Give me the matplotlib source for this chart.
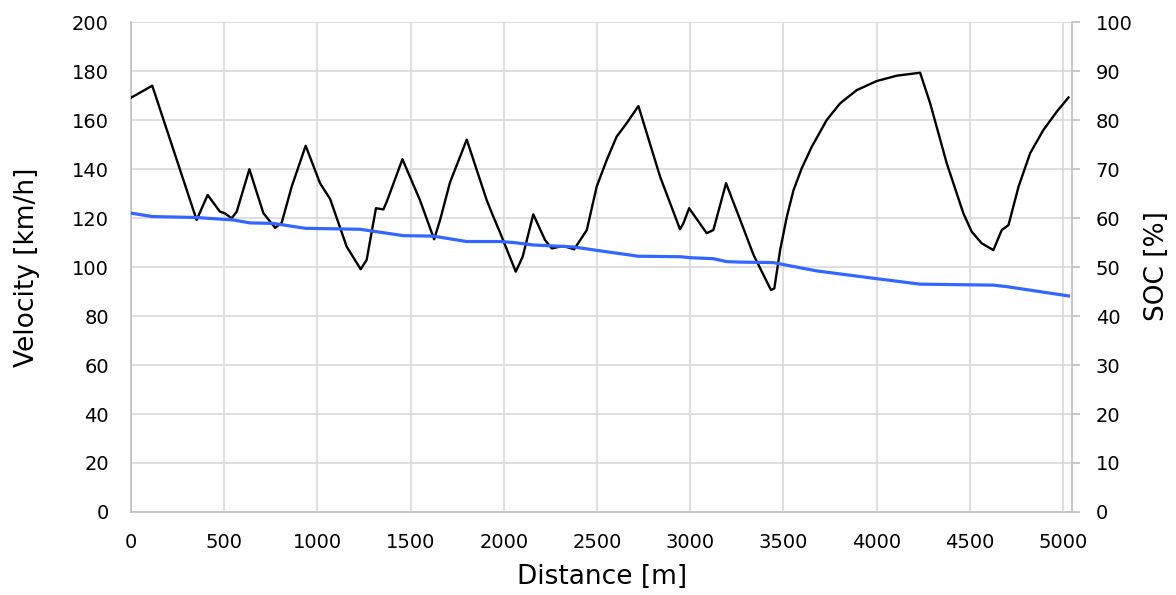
import matplotlib
matplotlib.use("Agg")
import matplotlib.pyplot as plt

# Velocity profile (distance [m], velocity [km/h])
dist_v = [0, 114, 352, 411, 477, 501, 540, 567, 635, 710, 773, 808, 862, 937, 1014, 1068,
          1157, 1232, 1264, 1314, 1354, 1372, 1456, 1550, 1626, 1658, 1711, 1801, 1908,
          1944, 1980, 2064, 2101, 2158, 2221, 2257, 2320, 2377, 2445, 2498, 2552, 2605, 2659,
          2722, 2838, 2945, 2963, 2994, 3088, 3124, 3192, 3267, 3339, 3433, 3451, 3482, 3518,
          3554, 3598, 3652, 3732, 3804, 3893, 4000, 4108, 4233, 4287, 4376, 4465, 4510, 4563,
          4626, 4671, 4707, 4761, 4823, 4894, 4966, 5029]
velocity = [169.1, 174.0, 119.2, 129.4, 122.6, 122.0, 119.9, 122.6, 139.9, 122.0, 116.0, 118.0,
            132.8, 149.5, 134.2, 127.8, 108.3, 99.1, 102.9, 124.0, 123.5, 126.7, 144.0, 127.3,
            111.3, 119.2, 134.5, 152.0, 127.3, 120.5, 114.0, 98.1, 104.2, 121.5, 111.0, 107.6,
            108.6, 107.2, 115.1, 132.8, 143.7, 153.2, 158.7, 165.7, 136.9, 115.4, 117.8, 124.0,
            113.8, 115.1, 134.2, 119.4, 105.0, 90.6, 91.3, 106.9, 120.5, 131.4, 140.3, 149.1,
            160.0, 166.8, 172.2, 175.9, 178.1, 179.3, 166.8, 142.3, 121.9, 114.4, 109.7, 106.9,
            115.1, 117.1, 132.8, 146.4, 155.9, 163.4, 169.2]

# State of charge (distance [m], SOC [%])
dist_soc = [0, 113, 352, 549, 638, 764, 934, 1229, 1461, 1622, 1801, 1980, 2051, 2158, 2373,
            2516, 2722, 2945, 2999, 3124, 3195, 3267, 3446, 3500, 3679, 3983, 4233, 4626,
            4697, 5029]
soc = [61.0, 60.3, 60.1, 59.6, 59.0, 58.9, 57.9, 57.7, 56.4, 56.3, 55.2, 55.2, 55.0, 54.5,
       54.1, 53.3, 52.2, 52.1, 51.9, 51.7, 51.1, 51.0, 50.9, 50.5, 49.2, 47.7, 46.5, 46.3,
       46.0, 44.1]

x_ticks = list(range(0, 5001, 500))
v_ticks = list(range(0, 201, 20))
soc_ticks = list(range(0, 101, 10))

grid_col = "#d9d9d9"
fs_tick = 14
fs_label = 19

fig = plt.figure(figsize=(11.76, 5.95), dpi=100)
ax = fig.add_axes([0.1114, 0.1395, 0.8002, 0.8235])
ax2 = ax.twinx()

ax.plot(dist_v, velocity, color="black", lw=1.7, zorder=3, solid_joinstyle="round")
ax2.plot(dist_soc, soc, color="#3366ff", lw=2.3, zorder=3, solid_joinstyle="round")

ax.set_xlim(0, 5048)
ax.set_ylim(0, 200)
ax2.set_ylim(0, 100)
ax.set_xticks(x_ticks)
ax.set_yticks(v_ticks)
ax2.set_yticks(soc_ticks)

ax.grid(True, color=grid_col, lw=1.2)
ax.set_axisbelow(True)

for a in (ax, ax2):
    for s in a.spines.values():
        s.set_color("#bfbfbf")
        s.set_linewidth(1.2)
    a.spines["top"].set_visible(False)
ax.spines["right"].set_visible(False)
ax2.spines["left"].set_visible(False)
ax2.spines["bottom"].set_visible(False)

ax.tick_params(axis="y", length=0, labelsize=fs_tick, pad=16)
ax.tick_params(axis="x", length=0, labelsize=fs_tick, pad=15)
ax2.tick_params(axis="y", length=6, color="#bfbfbf", width=1.2, labelsize=fs_tick, pad=11)

ax.set_xlabel("Distance [m]", fontsize=fs_label)
ax.set_ylabel("Velocity [km/h]", fontsize=fs_label)
ax2.set_ylabel("SOC [%]", fontsize=fs_label, rotation=90)
ax.xaxis.set_label_coords(602 / 1176, 1 - 577 / 595, transform=fig.transFigure)
ax.yaxis.set_label_coords(27 / 1176, 1 - 267 / 595, transform=fig.transFigure)
ax2.yaxis.set_label_coords(1157 / 1176, 1 - 266 / 595, transform=fig.transFigure)
ax.xaxis.label.set_va("center")
ax.yaxis.label.set_va("center")
ax2.yaxis.label.set_va("center")

fig.savefig("out.png", dpi=100)
